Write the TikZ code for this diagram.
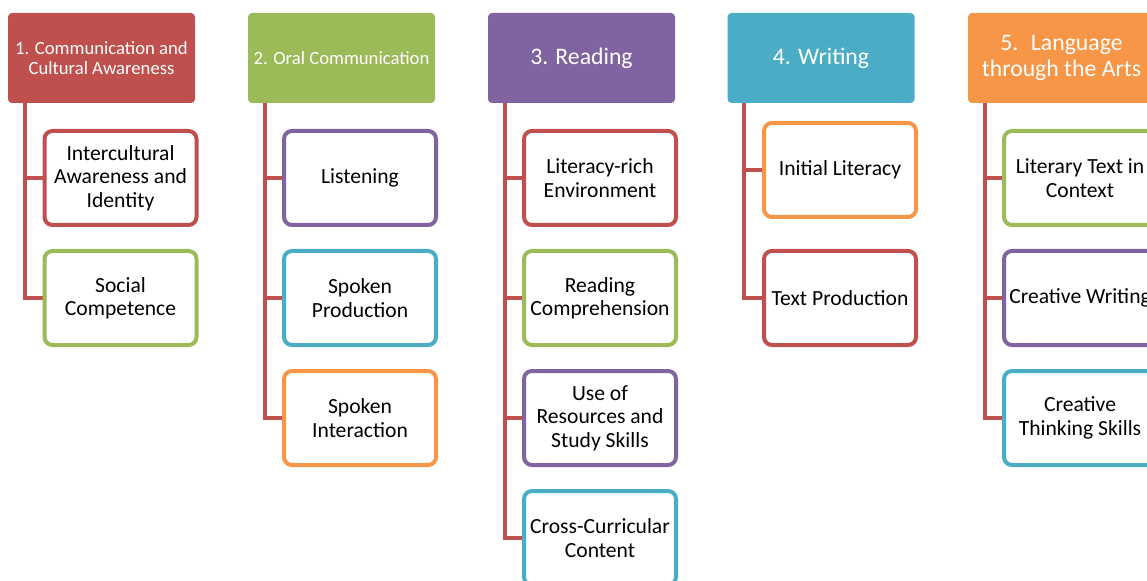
\documentclass[tikz,border=0pt]{standalone}
\usepackage{fontspec}
\setmainfont{Carlito}
\usetikzlibrary{backgrounds}
\definecolor{ored}{HTML}{C0504D}
\definecolor{ogreen}{HTML}{9BBB59}
\definecolor{opurple}{HTML}{8064A2}
\definecolor{oblue}{HTML}{4BACC6}
\definecolor{oorange}{HTML}{F79646}

\begin{document}
\begin{tikzpicture}[x=0.75pt,y=-0.75pt,
        head/.style={rectangle,rounded corners=3pt,fill=#1,text=white,align=center,
            minimum width=140.25pt,minimum height=67.5pt,inner sep=0pt},
        leaf/.style={rectangle,rounded corners=6pt,draw=#1,line width=3pt,fill=white,align=center,
            minimum width=114pt,minimum height=70.5pt,inner sep=0pt,font=\fontsize{16.2}{17.6}\selectfont},
        link/.style={draw=ored,line width=3pt}]
    \useasboundingbox (0,0) rectangle (1147,581);
    \clip (0,0) rectangle (1147,581);

    % headers
    \node[head=ored,font=\fontsize{14}{15}\selectfont] (h1) at (101.5,58) {1. Communication and\\Cultural Awareness};
    \node[head=ogreen,font=\fontsize{14}{15}\selectfont] (h2) at (341.5,58) {2. Oral Communication};
    \node[head=opurple,font=\fontsize{17.8}{19.5}\selectfont] (h3) at (581.5,58) {3. Reading};
    \node[head=oblue,font=\fontsize{17.8}{19.5}\selectfont] (h4) at (821,58) {4. Writing};
    \node[head=oorange,font=\fontsize{17.8}{19.5}\selectfont] (h5) at (1061.5,58) {5.~ Language\\through the Arts};

    % column 1
    \node[leaf=ored] (c11) at (120.5,178) {Intercultural\\Awareness and\\Identity};
    \node[leaf=ogreen] (c12) at (120.5,298) {Social\\Competence};

    % column 2
    \node[leaf=opurple] (c21) at (360,178) {Listening};
    \node[leaf=oblue] (c22) at (360,298) {Spoken\\Production};
    \node[leaf=oorange] (c23) at (360,418) {Spoken\\Interaction};

    % column 3
    \node[leaf=ored] (c31) at (600,178) {Literacy-rich\\Environment};
    \node[leaf=ogreen] (c32) at (600,298) {Reading\\Comprehension};
    \node[leaf=opurple] (c33) at (600,418) {Use of\\Resources and\\Study Skills};
    \node[leaf=oblue] (c34) at (600,538) {Cross-Curricular\\Content};

    % column 4
    \node[leaf=oorange] (c41) at (840,170) {Initial Literacy};
    \node[leaf=ored] (c42) at (840,298) {Text Production};

    % column 5
    \node[leaf=ogreen] (c51) at (1080,178) {Literary Text in\\Context};
    \node[leaf=opurple] (c52) at (1080,298) {Creative Writing};
    \node[leaf=oblue] (c53) at (1080,418) {Creative\\Thinking Skills};

    % tree lines
    \begin{pgfonlayer}{background}
        \foreach \h/\kids in {h1/{c11,c12},h2/{c21,c22,c23},h3/{c31,c32,c33,c34},h4/{c41,c42},h5/{c51,c52,c53}}
            \foreach \c in \kids
                \draw[link] (\h.south west) ++(17,0) |- (\c.west);
    \end{pgfonlayer}
\end{tikzpicture}
\end{document}
